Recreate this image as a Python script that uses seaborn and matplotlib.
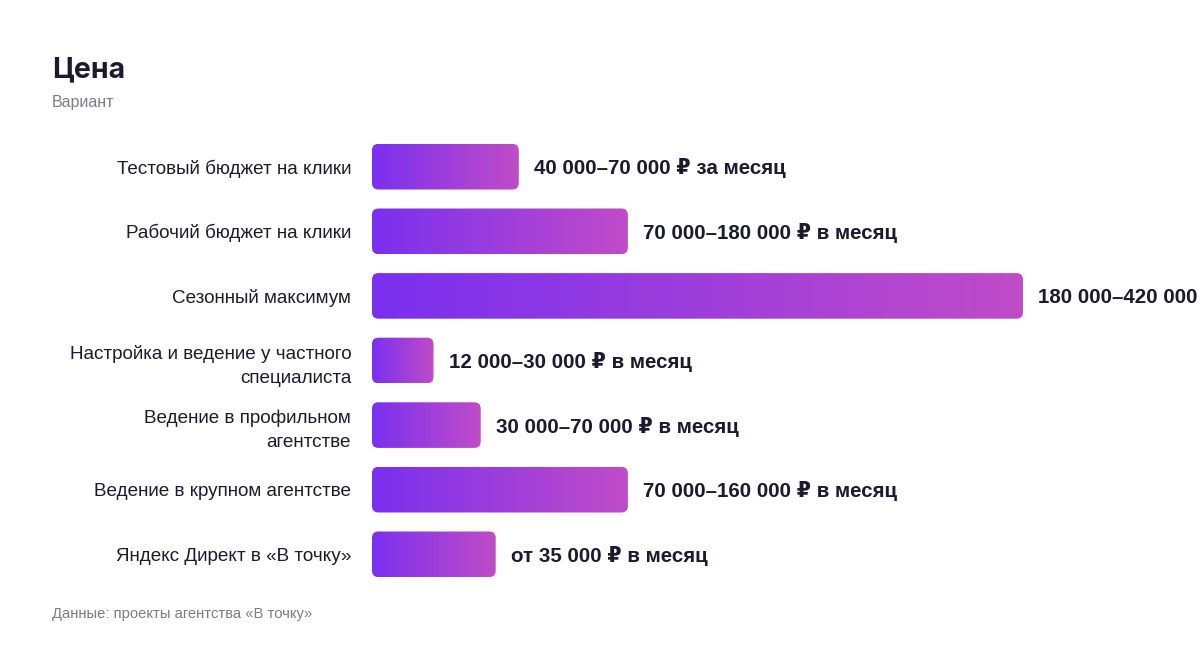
import numpy as np
import pandas as pd
import matplotlib
matplotlib.use("Agg")
import matplotlib.pyplot as plt
import seaborn as sns
from matplotlib.patches import FancyBboxPatch
from matplotlib.colors import LinearSegmentedColormap

categories = [
    "Тестовый бюджет на клики",
    "Рабочий бюджет на клики",
    "Сезонный максимум",
    "Настройка и ведение у частного\nспециалиста",
    "Ведение в профильном\nагентстве",
    "Ведение в крупном агентстве",
    "Яндекс Директ в «В точку»",
]
values = [45.1, 78.6, 200.0, 18.9, 33.4, 78.6, 38.0]
value_labels = [
    "40 000–70 000 ₽ за месяц",
    "70 000–180 000 ₽ в месяц",
    "180 000–420 000 ₽ в месяц",
    "12 000–30 000 ₽ в месяц",
    "30 000–70 000 ₽ в месяц",
    "70 000–160 000 ₽ в месяц",
    "от 35 000 ₽ в месяц",
]
title = "Цена"
subtitle = "Вариант"
source = "Данные: проекты агентства «В точку»"

sns.set_theme(style="white")
plt.rcParams["font.family"] = ["Liberation Sans", "DejaVu Sans"]

TEXT = "#1c1a2e"
GRAY = "#7b7a8e"
C0, C1 = "#7a30ef", "#c04cc8"

df = pd.DataFrame({"cat": categories, "val": values})

fig = plt.figure(figsize=(12, 6.48), dpi=100)
fig.patch.set_facecolor("white")
ax = fig.add_axes([372 / 1200, 1 - 586.6 / 648, 651 / 1200, (586.6 - 134.4) / 648])

sns.barplot(data=df, x="val", y="cat", orient="h", width=0.706, ax=ax,
            color=C0, saturation=1)
ax.set_xlim(0, 200)
ax.set_xlabel("")
ax.set_ylabel("")
ax.set_xticks([])
sns.despine(ax=ax, left=True, bottom=True)
ax.tick_params(axis="y", length=0, pad=15, labelsize=13.6, labelcolor=TEXT)
for t in ax.get_yticklabels():
    t.set_linespacing(1.5)

cmap = LinearSegmentedColormap.from_list("g", [C0, C1])
grad = np.linspace(0, 1, 256).reshape(1, -1)

px_per_x = 651 / 200
px_per_y = (586.6 - 134.4) / 7
radius_px = 6.5
patches = list(ax.patches)
for p, lab in zip(patches, value_labels):
    x0, y0 = p.get_x(), p.get_y()
    w, h = p.get_width(), p.get_height()
    p.set_visible(False)
    fb = FancyBboxPatch((x0, y0), w, h,
                        boxstyle=f"round,pad=0,rounding_size={radius_px / px_per_x}",
                        mutation_aspect=px_per_x / px_per_y,
                        facecolor="none", edgecolor="none", transform=ax.transData)
    ax.add_patch(fb)
    im = ax.imshow(grad, cmap=cmap, aspect="auto",
                   extent=(x0, x0 + w, y0 + h, y0), zorder=2, interpolation="bilinear")
    im.set_clip_path(fb)
    ax.text(x0 + w + 15 / px_per_x, y0 + h / 2 + 1.5 / px_per_y, lab, va="center", ha="left",
            fontsize=14.8, fontweight="bold", color=TEXT, clip_on=False)

ax.set_xlim(0, 200)
ax.set_ylim(6.5, -0.5)

fig.text(52 / 1200, 1 - 77 / 648, title, fontsize=20.5, fontweight="bold", color=TEXT,
         family=["Inter", "DejaVu Sans"], va="baseline")
fig.text(52 / 1200, 1 - 107 / 648, subtitle, fontsize=11.5, color=GRAY, va="baseline")
fig.text(52 / 1200, 1 - 618 / 648, source, fontsize=10.6, color=GRAY, va="baseline")

fig.savefig("out.png", dpi=100, facecolor="white")
